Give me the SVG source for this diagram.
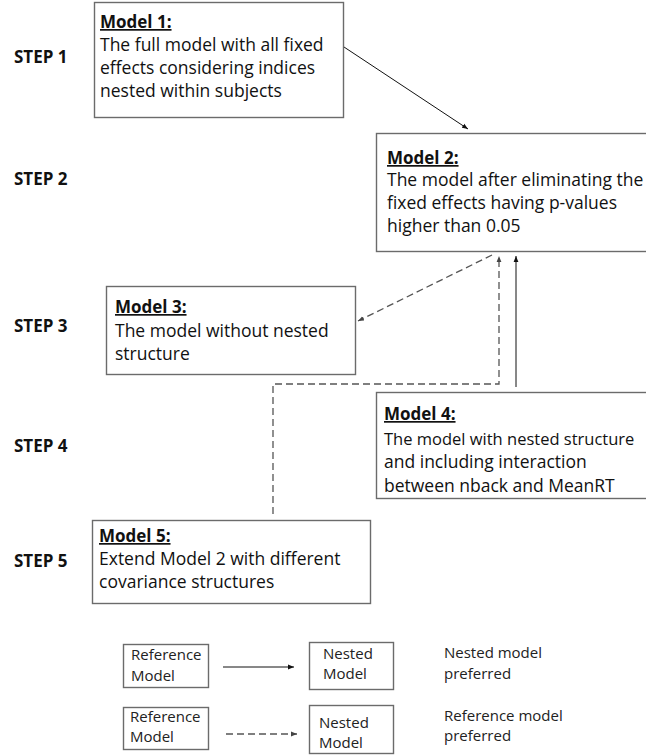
<svg xmlns="http://www.w3.org/2000/svg" width="646" height="756" viewBox="0 0 646 756">
<defs>
<style>
.box{fill:#ffffff;stroke:#6b6b6b;stroke-width:1.4}
.step{font-family:"Open Sans","Liberation Sans",sans-serif;font-weight:bold;font-size:17px;fill:#111}
.hd{font-family:"Open Sans","Liberation Sans",sans-serif;font-weight:bold;font-size:17px;fill:#111;text-decoration:underline}
.tx{font-family:"Open Sans","Liberation Sans",sans-serif;font-size:17.5px;fill:#111}
.lg{font-family:"Open Sans","Liberation Sans",sans-serif;font-size:15px;fill:#222}
.solid{fill:none;stroke:#111;stroke-width:1}
.dash{fill:none;stroke:#555;stroke-width:1.3;stroke-dasharray:7 4}
</style>
<marker id="ahb" viewBox="0 0 10 10" refX="10" refY="5" markerWidth="6" markerHeight="6" markerUnits="userSpaceOnUse" orient="auto"><path d="M0,1 L10,5 L0,9 z" fill="#111"/></marker>
<marker id="ahg" viewBox="0 0 10 10" refX="10" refY="5" markerWidth="6" markerHeight="6" markerUnits="userSpaceOnUse" orient="auto"><path d="M0,1 L10,5 L0,9 z" fill="#444"/></marker>
</defs>
<rect width="646" height="756" fill="#ffffff"/>

<g id="steps">
<text class="step" x="14" y="63">STEP 1</text>
<text class="step" x="14" y="185">STEP 2</text>
<text class="step" x="14" y="332">STEP 3</text>
<text class="step" x="14" y="452">STEP 4</text>
<text class="step" x="14" y="567">STEP 5</text>
</g>

<g id="connectors">
<path class="solid" d="M344,47 L468,129" marker-end="url(#ahb)"/>
<path class="dash" d="M492,255 L358,321" marker-end="url(#ahg)"/>
<path class="dash" d="M273,514 L273,384 L499,384 L499,256" marker-end="url(#ahg)"/>
<path class="solid" d="M516,387 L516,256" marker-end="url(#ahb)"/>
</g>

<g id="model1">
<rect class="box" x="94.5" y="2.5" width="249" height="115"/>
<text class="hd" x="100" y="28">Model 1:</text>
<text class="tx" x="100" y="51">The full model with all fixed</text>
<text class="tx" x="100" y="74">effects considering indices</text>
<text class="tx" x="100" y="97">nested within subjects</text>
</g>

<g id="model2">
<rect class="box" x="376.5" y="133.5" width="290" height="118"/>
<text class="hd" x="387" y="164">Model 2:</text>
<text class="tx" x="387" y="186">The model after eliminating the</text>
<text class="tx" x="387" y="209">fixed effects having p-values</text>
<text class="tx" x="387" y="232">higher than 0.05</text>
</g>

<g id="model3">
<rect class="box" x="106.5" y="286.5" width="249" height="88"/>
<text class="hd" x="115" y="313">Model 3:</text>
<text class="tx" x="115" y="337">The model without nested</text>
<text class="tx" x="115" y="360">structure</text>
</g>

<g id="model4">
<rect class="box" x="376.5" y="392.5" width="290" height="106"/>
<text class="hd" x="384" y="420">Model 4:</text>
<text class="tx" x="384" y="445" style="font-size:16.5px">The model with nested structure</text>
<text class="tx" x="384" y="468">and including interaction</text>
<text class="tx" x="384" y="492">between nback and MeanRT</text>
</g>

<g id="model5">
<rect class="box" x="92.5" y="520.5" width="278" height="83"/>
<text class="hd" x="99" y="542">Model 5:</text>
<text class="tx" x="99" y="565">Extend Model 2 with different</text>
<text class="tx" x="99" y="588">covariance structures</text>
</g>

<g id="legend">
<g id="legend-ref1">
<rect class="box" x="123.5" y="644.5" width="85" height="43"/>
<text class="lg" x="131" y="660">Reference</text>
<text class="lg" x="131" y="681">Model</text>
</g>
<g id="legend-nested1">
<rect class="box" x="309.5" y="642.5" width="84" height="47"/>
<text class="lg" x="323" y="659">Nested</text>
<text class="lg" x="323" y="679">Model</text>
</g>
<text class="lg" x="444" y="658">Nested model</text>
<text class="lg" x="444" y="679">preferred</text>
<g id="legend-ref2">
<rect class="box" x="123.5" y="707.5" width="85" height="42"/>
<text class="lg" x="130" y="722">Reference</text>
<text class="lg" x="130" y="742">Model</text>
</g>
<g id="legend-nested2">
<rect class="box" x="309.5" y="705.5" width="84" height="48"/>
<text class="lg" x="319" y="728">Nested</text>
<text class="lg" x="319" y="748">Model</text>
</g>
<text class="lg" x="444" y="721">Reference model</text>
<text class="lg" x="444" y="741">preferred</text>
<g id="legend-arrows">
<path class="solid" d="M223,667 L294,667" marker-end="url(#ahb)"/>
<path class="dash" d="M226,734 L297,734" marker-end="url(#ahg)"/>
</g>
</g>
</svg>
